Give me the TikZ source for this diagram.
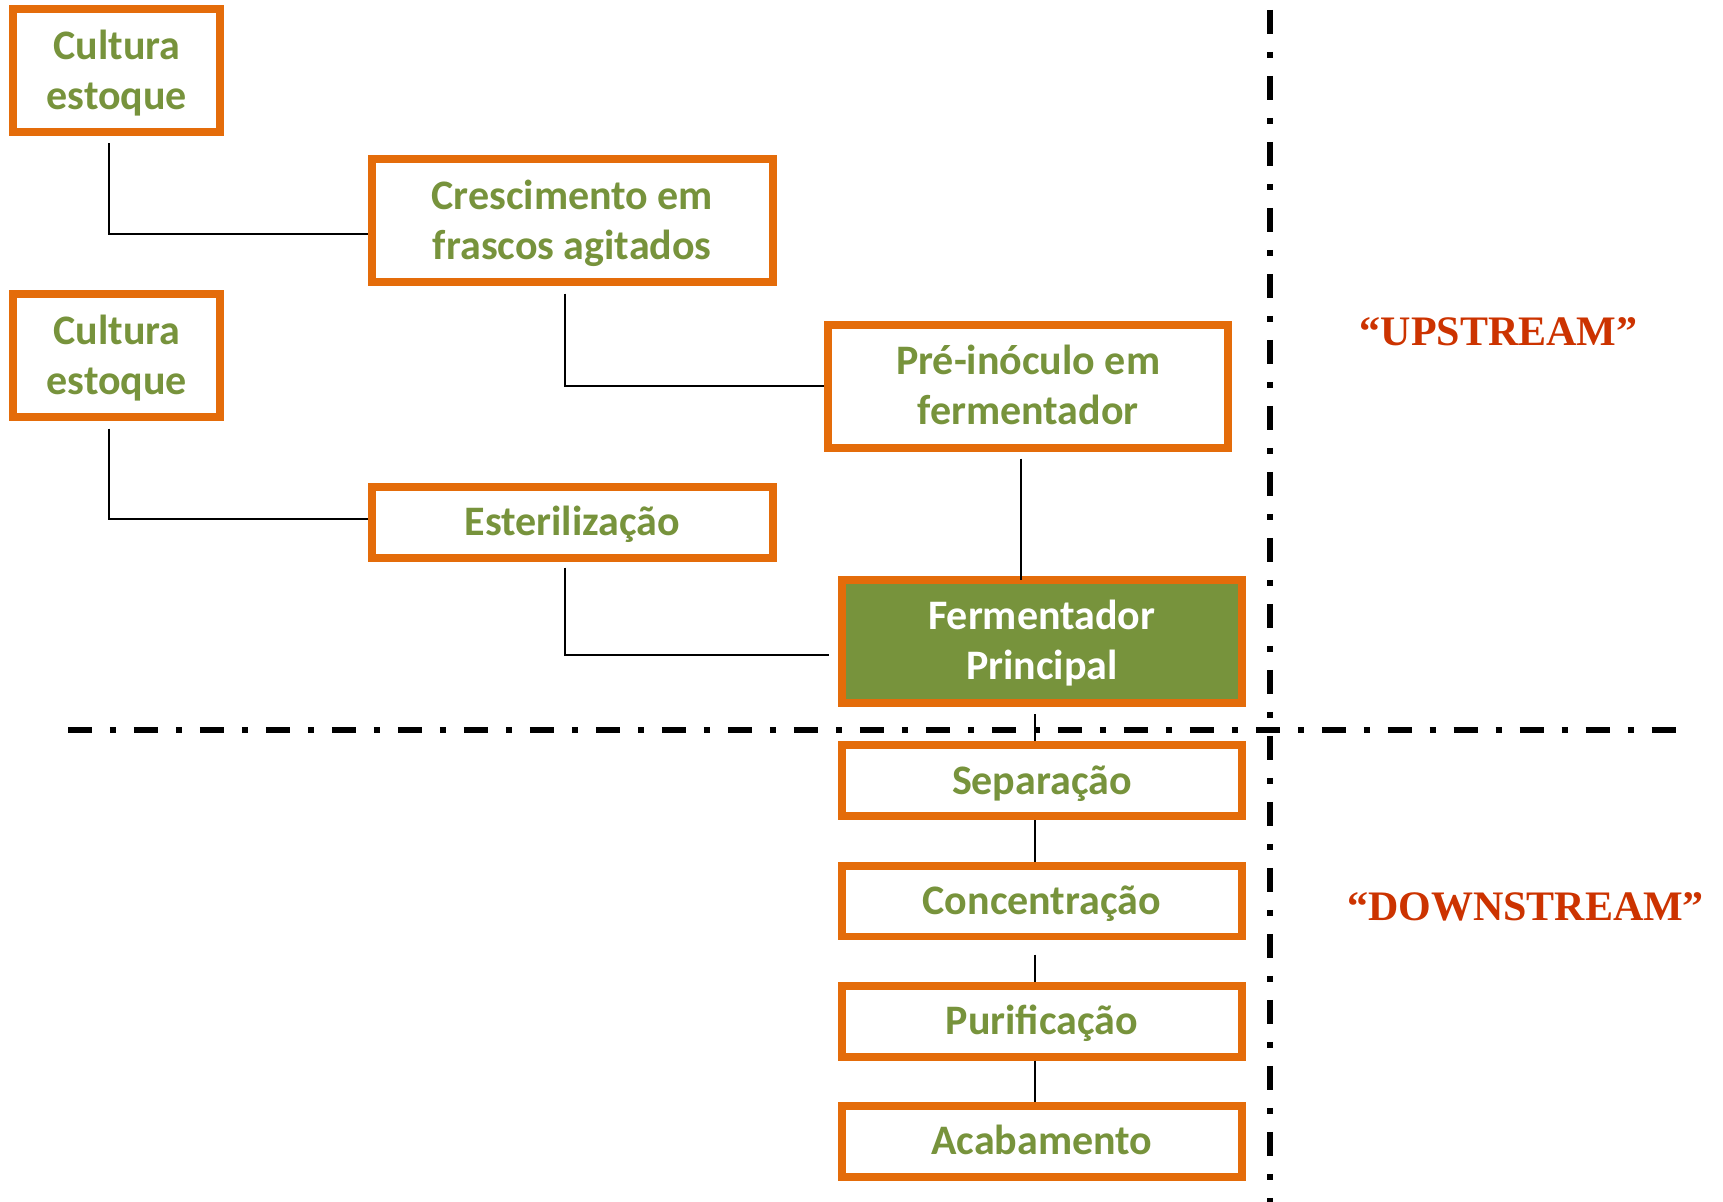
\documentclass[tikz,border=0pt]{standalone}
\usepackage{fontspec}
\setmainfont{Carlito}
\newfontfamily\tagfont{Liberation Serif}
\usetikzlibrary{calc}
\definecolor{boxorange}{RGB}{228,108,10}
\definecolor{olive}{RGB}{119,147,60}
\definecolor{stagered}{RGB}{204,51,0}

\begin{document}
\begin{tikzpicture}[x=0.02cm,y=-0.02cm,
  stage/.style={draw=boxorange, line width=0.16cm, fill=white, text=olive,
    font=\bfseries\fontsize{23.9pt}{28.45pt}\selectfont, align=center,
    inner sep=0pt, text depth=0pt},
  wide/.style={minimum width=8.01cm},
  narrow/.style={minimum width=4.14cm},
  tall/.style={minimum height=2.46cm, text height=43.85pt},
  short/.style={minimum height=1.42cm, text height=15.4pt},
  link/.style={draw=black, line width=0.04cm},
  phase/.style={draw=black, line width=0.11cm,
    dash pattern=on 0.48cm off 0.36cm on 0.12cm off 0.36cm},
  tag/.style={text=stagered, font=\tagfont\bfseries\fontsize{23.9pt}{28pt}\selectfont,
    inner sep=0pt, anchor=base}
]
% canvas
\fill[white] (0,0) rectangle (1723,1202);
\useasboundingbox (0,0) rectangle (1723,1202);

% upstream / downstream dividers
\coordinate (hl) at (68,730);
\coordinate (hr) at (1676,730);
\coordinate (vt) at (1270,10);
\coordinate (vb) at (1270,1202);
\draw[phase] (hl) -- (hr);
\draw[phase] (vt) -- (vb);

% process stages
\node[stage,narrow,tall] (c1) at (116.8,70.7) {Cultura\\estoque};
\node[stage,narrow,tall] (c2) at (116.8,355.8) {Cultura\\estoque};
\node[stage,wide,tall] (cresc) at (572.3,220.5) {Crescimento em\\frascos agitados};
\node[stage,wide,short] (ester) at (572.3,522.2) {Esterilização};
\node[stage,wide,tall] (pre) at (1028.2,386.2) {Pré-inóculo em\\fermentador};
\node[stage,wide,tall,fill=olive,text=white] (ferm) at (1041.8,641.3) {Fermentador\\Principal};
\node[stage,wide,short] (sep) at (1041.8,780.8) {Separação};
\node[stage,wide,short] (conc) at (1041.8,901) {Concentração};
\node[stage,wide,short] (puri) at (1041.8,1021) {Purificação};
\node[stage,wide,short] (acab) at (1041.8,1141.2) {Acabamento};

% connectors
\draw[link] ($(c1.south)+(-7.5,7.3)$) |- ($(cresc.west)+(0,13.8)$);
\draw[link] ($(cresc.south)+(-7.3,7.7)$) |- (pre.west);
\draw[link] ($(c2.south)+(-7.5,7.3)$) |- ($(ester.west)+(0,-3)$);
\draw[link] ($(ester.south)+(-7.3,6)$) |- ($(ferm.west)+(-8.7,13.7)$);
\draw[link] ($(pre.south)+(-7.2,7)$) -- ($(pre.south |- ferm.north)+(-7.2,4.5)$);
\draw[link] ($(ferm.south)+(-7.1,7.6)$) -- ($(sep.north)+(-7.1,0)$);
\draw[link] ($(sep.south)+(-7,0)$) -- ($(conc.north)+(-7,0)$);
\draw[link] ($(conc.south)+(-7,14)$) -- ($(puri.north)+(-7,0)$);
\draw[link] ($(puri.south)+(-7,0)$) -- ($(acab.north)+(-7,0)$);

% phase labels
\node[tag] (up) at (1498.5,346) {“UPSTREAM”};
\node[tag] (down) at (1525.5,920) {“DOWNSTREAM”};
\end{tikzpicture}
\end{document}
